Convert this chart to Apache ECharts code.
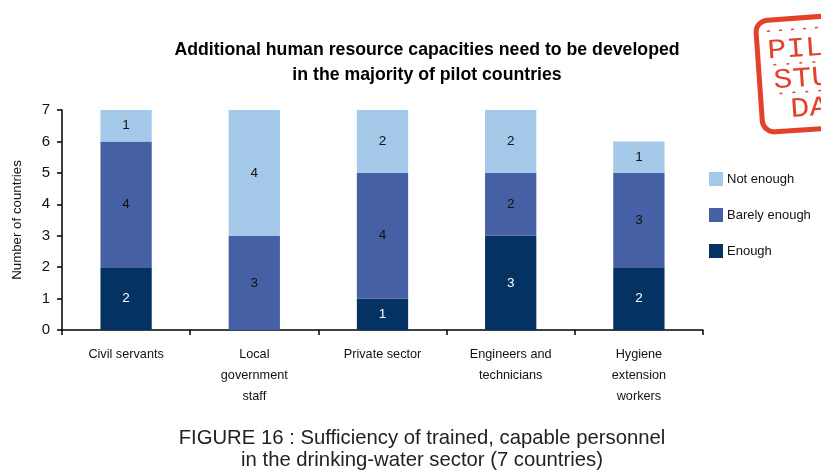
<!DOCTYPE html>
<html>
<head>
<meta charset="utf-8">
<script src="https://cdn.jsdelivr.net/npm/echarts@6/dist/echarts.min.js"></script>
<style>
  html, body { margin: 0; padding: 0; background: #fff; }
  #chart { width: 821px; height: 473px; }
</style>
</head>
<body>
<div id="chart"></div>
<script>
// Personnel categories along the x axis
const categories = [
  'Civil servants',
  'Local\ngovernment\nstaff',
  'Private sector',
  'Engineers and\ntechnicians',
  'Hygiene\nextension\nworkers'
];
// Number of countries per sufficiency level
const enough = [2, 0, 1, 3, 2];
const barelyEnough = [4, 3, 4, 2, 3];
const notEnough = [1, 4, 2, 2, 1];
const yTicks = [0, 1, 2, 3, 4, 5, 6, 7];

const narrow = '"Liberation Sans Narrow", "Arial Narrow", "Liberation Sans", Arial, sans-serif';
const stampRed = '#E4412B';
const stampFont = '28px "Liberation Mono", "DejaVu Sans Mono", monospace';

function barSeries(name, values, color, labelColor) {
  return {
    name: name,
    type: 'bar',
    stack: 'total',
    barWidth: '40%',
    data: values,
    itemStyle: { color: color },
    label: {
      show: true,
      position: 'inside',
      color: labelColor,
      fontFamily: narrow,
      fontSize: 13.5,
      formatter: p => (p.value > 0 ? String(p.value) : '')
    }
  };
}

function stampWord(word, x, y) {
  return {
    type: 'text',
    x: x,
    y: y,
    scaleX: 1.13,
    style: { text: word, x: 0, y: 0, fill: stampRed, font: stampFont, verticalAlign: 'middle' }
  };
}

const chart = echarts.init(document.getElementById('chart'), null, { renderer: 'canvas' });
chart.setOption({
  animation: false,
  backgroundColor: '#fff',
  title: {
    text: 'Additional human resource capacities need to be developed\nin the majority of pilot countries',
    left: 422,
    top: 33,
    textAlign: 'center',
    textStyle: {
      fontFamily: narrow,
      fontWeight: 'bold',
      fontSize: 17.7,
      lineHeight: 25,
      color: '#000'
    }
  },
  legend: {
    orient: 'vertical',
    left: 704,
    top: 167,
    itemWidth: 14,
    itemHeight: 14,
    itemGap: 22,
    icon: 'rect',
    data: ['Not enough', 'Barely enough', 'Enough'],
    textStyle: { fontFamily: narrow, fontSize: 13, color: '#111', padding: [0, 0, 0, -1] }
  },
  grid: { left: 62, right: 118, top: 110, bottom: 143 },
  xAxis: {
    type: 'category',
    data: categories,
    axisLine: { lineStyle: { color: '#000', width: 1.5 } },
    axisTick: { show: true, length: 5, lineStyle: { color: '#000', width: 1.5 } },
    axisLabel: {
      fontFamily: narrow,
      fontSize: 12.7,
      color: '#111',
      lineHeight: 21,
      margin: 14
    }
  },
  yAxis: {
    type: 'value',
    min: 0,
    max: 7,
    interval: 1,
    name: 'Number of countries',
    nameLocation: 'middle',
    nameRotate: 90,
    nameGap: 38,
    nameTextStyle: { fontFamily: narrow, fontSize: 13.3, color: '#111' },
    axisLine: { show: true, lineStyle: { color: '#000', width: 1.5 } },
    axisTick: { show: true, length: 5, lineStyle: { color: '#000', width: 1.5 } },
    splitLine: { show: false },
    axisLabel: {
      fontFamily: narrow,
      fontSize: 15,
      color: '#111',
      margin: 12,
      formatter: v => (yTicks.indexOf(v) >= 0 ? String(v) : '')
    }
  },
  series: [
    barSeries('Enough', enough, '#043263', '#fff'),
    barSeries('Barely enough', barelyEnough, '#4660A6', '#111'),
    barSeries('Not enough', notEnough, '#A3C8E8', '#111')
  ],
  graphic: [
    {
      type: 'text',
      style: {
        text: 'FIGURE 16 : Sufficiency of trained, capable personnel\nin the drinking-water sector (7 countries)',
        x: 422,
        y: 427,
        fontFamily: '"Liberation Sans", Arial, sans-serif',
        fontSize: 20.3,
        lineHeight: 22,
        fill: '#222',
        align: 'center',
        verticalAlign: 'top'
      }
    },
    {
      // red "pilot study data" stamp in the corner
      type: 'group',
      x: 814,
      y: 72,
      rotation: 4 * Math.PI / 180,
      children: [
        {
          type: 'rect',
          shape: { x: -55, y: -55, width: 130, height: 112, r: 12 },
          style: { fill: 'none', stroke: stampRed, lineWidth: 5 }
        },
        {
          type: 'line',
          shape: { x1: -44, y1: -44, x2: 60, y2: -44 },
          style: { stroke: stampRed, lineWidth: 1.5, lineDash: [3, 9] }
        },
        {
          type: 'line',
          shape: { x1: -40, y1: -10, x2: 60, y2: -10 },
          style: { stroke: stampRed, lineWidth: 1.5, lineDash: [3, 10] }
        },
        {
          type: 'line',
          shape: { x1: -36, y1: 19, x2: 60, y2: 19 },
          style: { stroke: stampRed, lineWidth: 1.5, lineDash: [3, 10] }
        },
        stampWord('PILOT', -45, -24),
        stampWord('STUDY', -41, 6),
        stampWord('DATA', -26, 36)
      ]
    }
  ]
});
</script>
</body>
</html>
